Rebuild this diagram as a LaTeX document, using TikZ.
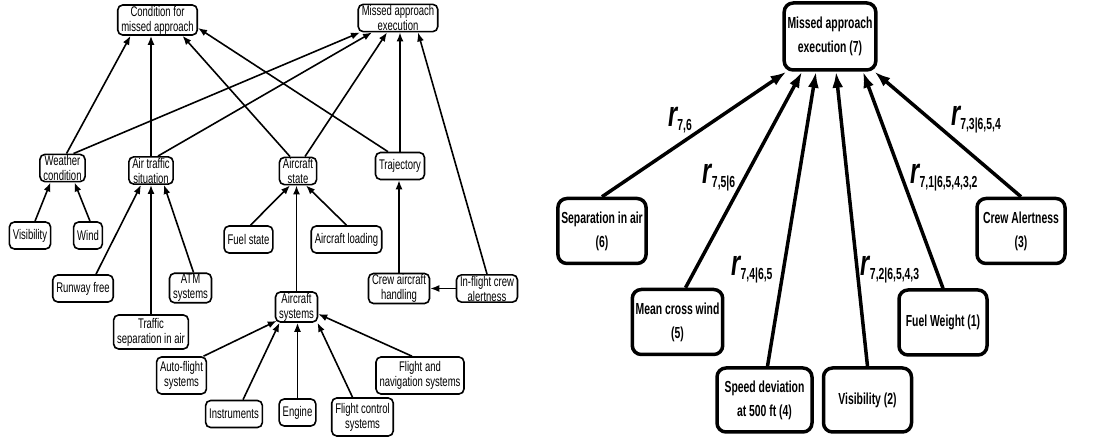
\documentclass[tikz,border=0pt]{standalone}
\usepackage{fontspec}
\setmainfont{Liberation Sans}
\newfontfamily\smallfont[FakeStretch=0.68]{Liberation Sans}
\newfontfamily\bigfont[FakeStretch=0.65]{Liberation Sans}
\usetikzlibrary{arrows.meta}
\newcommand{\rlab}[1]{{\bigfont\bfseries\itshape\fontsize{36}{36}\selectfont r}\raisebox{-4pt}{\bigfont\bfseries\fontsize{16}{16}\selectfont #1}}

\begin{document}
\begin{tikzpicture}[x=1pt, y=-1pt,
	fact/.style={draw, rounded corners=5pt, line width=1.6pt, align=center,
		inner xsep=3.5pt, inner ysep=1pt, minimum height=27pt,
		font=\smallfont\fontsize{14}{15}\selectfont},
	var/.style={draw, rounded corners=9pt, line width=3.5pt, align=center,
		minimum width=88pt, minimum height=65pt,
		font=\bigfont\bfseries\fontsize{16}{24}\selectfont},
	link/.style={-{Latex[length=9pt,width=7pt]}, line width=1.6pt},
	blink/.style={-{Latex[length=16pt,width=11pt]}, line width=3.5pt}]
	\useasboundingbox (0,0) rectangle (1112,438);

	% left network
	\node[fact] (cond) at (157.5,20) {Condition for\\missed approach};
	\node[fact] (miss) at (398,18) {Missed approach\\execution};
	\node[fact] (weather) at (62.5,168) {Weather\\condition};
	\node[fact] (air) at (151,170.5) {Air traffic\\situation};
	\node[fact] (state) at (298,171) {Aircraft\\state};
	\node[fact] (traj) at (400,166) {Trajectory};
	\node[fact] (vis) at (30,235.5) {Visibility};
	\node[fact] (wind) at (88,235.5) {Wind};
	\node[fact] (fuel) at (248.5,239.5) {Fuel state};
	\node[fact] (load) at (346.5,239.5) {Aircraft loading};
	\node[fact] (runway) at (83,288.5) {Runway free};
	\node[fact] (atm) at (190.5,288) {ATM\\systems};
	\node[fact] (crew) at (399,288.5) {Crew aircraft\\handling};
	\node[fact] (alert) at (487,288.5) {In-flight crew\\alertness};
	\node[fact] (sys) at (296.5,307) {Aircraft\\systems};
	\node[fact, minimum height=34pt] (traffic) at (151,332) {Traffic\\separation in air};
	\node[fact, minimum height=37pt] (auto) at (181.5,375.5) {Auto-flight\\systems};
	\node[fact, minimum height=37pt] (fns) at (420,375.5) {Flight and\\navigation systems};
	\node[fact] (instr) at (234,414) {Instruments};
	\node[fact] (engine) at (297.5,412.5) {Engine};
	\node[fact, minimum height=38pt] (fcs) at (362.5,417) {Flight control\\systems};

	\draw[link] ([xshift=4pt]weather.north) -- ([xshift=-27pt]cond.south);
	\draw[link] ([xshift=11pt]weather.north) -- ([xshift=-38pt]miss.south);
	\draw[link] (air.north) -- (air.north |- cond.south);
	\draw[link] ([xshift=7pt]air.north) -- ([xshift=-26pt]miss.south);
	\draw[link] ([xshift=-8pt]state.north) -- ([xshift=25pt]cond.south);
	\draw[link] ([xshift=7pt]state.north) -- ([xshift=-11pt]miss.south);
	\draw[link] ([xshift=-12pt]traj.north) -- ([yshift=-8pt]cond.east);
	\draw[link] (traj.north) -- (traj.north |- miss.south);
	\draw[link] (alert.north) -- ([xshift=20pt]miss.south);
	\draw[link] ([xshift=5pt]vis.north) -- ([xshift=-12pt]weather.south);
	\draw[link] ([xshift=2pt]wind.north) -- ([xshift=12pt]weather.south);
	\draw[link] ([xshift=13pt]runway.north) -- ([xshift=-10pt]air.south);
	\draw[link] (traffic.north) -- (traffic.north |- air.south);
	\draw[link] ([xshift=3pt]atm.north) -- ([xshift=13pt]air.south);
	\draw[link] ([xshift=2pt]fuel.north) -- ([xshift=-8pt]state.south);
	\draw[link] (load.north) -- ([xshift=8pt]state.south);
	\draw[link] (sys.north) -- (sys.north |- state.south);
	\draw[link] (crew.north) -- (crew.north |- traj.south);
	\draw[link] (alert.west) -- (crew.east);
	\draw[link] ([xshift=22pt]auto.north) -- ([xshift=2pt,yshift=2pt]sys.south west);
	\draw[link] ([xshift=9pt]instr.north) -- ([xshift=-17pt]sys.south);
	\draw[link] (engine.north) -- (engine.north |- sys.south);
	\draw[link] ([xshift=-10pt]fcs.north) -- ([xshift=21pt]sys.south);
	\draw[link] ([xshift=-8pt]fns.north) -- ([yshift=-7pt]sys.east);

	% right network
	\node[var, minimum width=90pt, minimum height=67pt] (m7) at (830,36.5) {Missed approach\\execution (7)};
	\node[var] (sep6) at (602,231) {Separation in air\\(6)};
	\node[var] (crew3) at (1021,231) {Crew Alertness\\(3)};
	\node[var] (wind5) at (677.5,322) {Mean cross wind\\(5)};
	\node[var] (fuel1) at (943,322.5) {Fuel Weight (1)};
	\node[var, minimum width=95pt, minimum height=64pt] (spd4) at (764.5,400) {Speed deviation\\at 500 ft (4)};
	\node[var, minimum height=64pt] (vis2) at (867.5,400) {Visibility (2)};

	\draw[blink] (sep6.north) -- ([xshift=4pt]m7.south west);
	\draw[blink] ([xshift=8pt]wind5.north) -- ([xshift=-28pt]m7.south);
	\draw[blink] ([xshift=3pt]spd4.north) -- ([xshift=-14pt]m7.south);
	\draw[blink] (vis2.north) -- ([xshift=6pt]m7.south);
	\draw[blink] (fuel1.north) -- ([xshift=33pt]m7.south);
	\draw[blink] (crew3.north) -- ([xshift=-3pt]m7.south east);

	\node (r76) at (680,120) {\rlab{7,6}};
	\node (r75) at (719,178) {\rlab{7,5|6}};
	\node (r74) at (752,270) {\rlab{7,4|6,5}};
	\node (r72) at (890,270) {\rlab{7,2|6,5,4,3}};
	\node (r71) at (944,178) {\rlab{7,1|6,5,4,3,2}};
	\node (r73) at (976,120) {\rlab{7,3|6,5,4}};
\end{tikzpicture}
\end{document}
